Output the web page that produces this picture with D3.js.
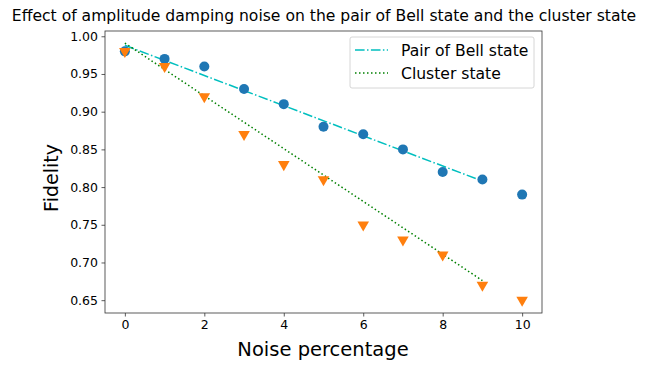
<!DOCTYPE html>
<html>
<head>
<meta charset="utf-8">
<script src="https://cdnjs.cloudflare.com/ajax/libs/d3/7.8.5/d3.min.js"></script>
<style>
  body { margin: 0; background: #fff; }
  text { font-family: "DejaVu Sans", sans-serif; fill: #000; }
</style>
</head>
<body>
<script>
// data
let noise = [0, 1, 2, 3, 4, 5, 6, 7, 8, 9, 10];
let bellFidelity = [0.98, 0.97, 0.96, 0.93, 0.91, 0.88, 0.87, 0.85, 0.82, 0.81, 0.79];
let clusterFidelity = [0.98, 0.96, 0.92, 0.87, 0.83, 0.81, 0.75, 0.73, 0.71, 0.67, 0.65];
// fitted lines (endpoints)
let fitX = [0, 9];
let bellFit = [0.988, 0.808];
let clusterFit = [0.991, 0.676];
let xTicks = [0, 2, 4, 6, 8, 10];
let yTicks = [0.65, 0.70, 0.75, 0.80, 0.85, 0.90, 0.95, 1.00];

let width = 649, height = 374;
let plotLeft = 105, plotRight = 542, plotTop = 31, plotBottom = 313;

let svg = d3.select("body").append("svg")
    .attr("width", width)
    .attr("height", height);

let x = d3.scaleLinear().domain([-0.5, 10.5]).range([plotLeft, plotRight]);
let y = d3.scaleLinear().domain([0.633, 1.007]).range([plotBottom, plotTop]);

// title
svg.append("text")
    .attr("x", 324)
    .attr("y", 21)
    .attr("text-anchor", "middle")
    .style("font-size", "15.6px")
    .text("Effect of amplitude damping noise on the pair of Bell state and the cluster state");

// axes
let xAxis = svg.append("g")
    .attr("transform", `translate(0, ${plotBottom})`)
    .call(d3.axisBottom(x).tickValues(xTicks).tickSize(3.5).tickPadding(3.5).tickFormat(d3.format("d")));
let yAxis = svg.append("g")
    .attr("transform", `translate(${plotLeft}, 0)`)
    .call(d3.axisLeft(y).tickValues(yTicks).tickSize(3.5).tickPadding(3.5).tickFormat(d3.format(".2f")));

[xAxis, yAxis].forEach(a => {
    a.select(".domain").remove();
    a.selectAll("text").style("font-size", "12.5px").style("font-family", "DejaVu Sans, sans-serif");
    a.selectAll("line").attr("stroke", "#333").attr("stroke-width", 0.8);
});

// frame
svg.append("rect")
    .attr("x", plotLeft).attr("y", plotTop)
    .attr("width", plotRight - plotLeft).attr("height", plotBottom - plotTop)
    .attr("fill", "none")
    .attr("stroke", "#333")
    .attr("stroke-width", 0.8);

// fit lines
let fitLine = d3.line().x(d => x(d[0])).y(d => y(d[1]));

svg.append("path")
    .datum(fitX.map((v, i) => [v, bellFit[i]]))
    .attr("d", fitLine)
    .attr("fill", "none")
    .attr("stroke", "#00bfbf")
    .attr("stroke-width", 1.5)
    .attr("stroke-dasharray", "9.6,2.4,1.5,2.4");

svg.append("path")
    .datum(fitX.map((v, i) => [v, clusterFit[i]]))
    .attr("d", fitLine)
    .attr("fill", "none")
    .attr("stroke", "#008000")
    .attr("stroke-width", 1.5)
    .attr("stroke-dasharray", "1.5,2.5");

// points
svg.append("g").selectAll("circle")
    .data(noise)
    .enter()
    .append("circle")
    .attr("cx", d => x(d))
    .attr("cy", (d, i) => y(bellFidelity[i]))
    .attr("r", 5)
    .attr("fill", "#1f77b4");

let tri = d3.symbol().type(d3.symbolTriangle).size(58);
svg.append("g").selectAll("path")
    .data(noise)
    .enter()
    .append("path")
    .attr("d", tri)
    .attr("transform", (d, i) => `translate(${x(d)}, ${y(clusterFidelity[i])}) rotate(180)`)
    .attr("fill", "#ff7f0e");

// axis labels
svg.append("text")
    .attr("x", 323)
    .attr("y", 356)
    .attr("text-anchor", "middle")
    .style("font-size", "19.5px")
    .text("Noise percentage");

svg.append("text")
    .attr("transform", `translate(58, 178) rotate(-90)`)
    .attr("text-anchor", "middle")
    .style("font-size", "19px")
    .text("Fidelity");

// legend
let legend = svg.append("g").attr("transform", "translate(350, 37)");
legend.append("rect")
    .attr("width", 184).attr("height", 51)
    .attr("rx", 2)
    .attr("fill", "#fff")
    .attr("stroke", "#ccc")
    .attr("stroke-width", 0.8);

let legendItems = [
    { name: "Pair of Bell state", color: "#00bfbf", dash: "9.6,2.4,1.5,2.4" },
    { name: "Cluster state", color: "#008000", dash: "1.5,2.5" }
];
legendItems.forEach((item, i) => {
    let yy = 13 + i * 23;
    legend.append("line")
        .attr("x1", 5).attr("x2", 38)
        .attr("y1", yy).attr("y2", yy)
        .attr("stroke", item.color)
        .attr("stroke-width", 1.5)
        .attr("stroke-dasharray", item.dash);
    legend.append("text")
        .attr("x", 51)
        .attr("y", yy + 5.5)
        .style("font-size", "15.6px")
        .text(item.name);
});
</script>
</body>
</html>
